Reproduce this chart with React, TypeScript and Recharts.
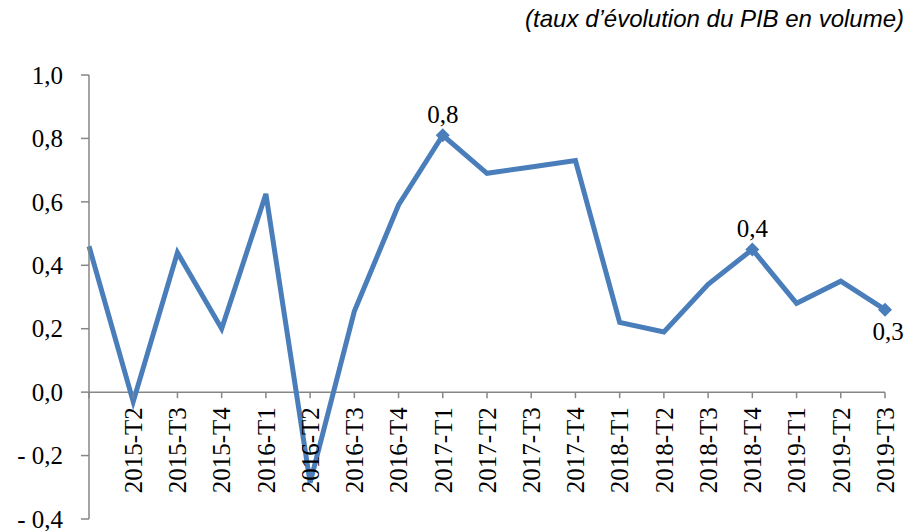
import { LineChart, Line, XAxis, YAxis, ReferenceLine, LabelList } from "recharts";

const periods = [
  "2015-T1", "2015-T2", "2015-T3", "2015-T4",
  "2016-T1", "2016-T2", "2016-T3", "2016-T4",
  "2017-T1", "2017-T2", "2017-T3", "2017-T4",
  "2018-T1", "2018-T2", "2018-T3", "2018-T4",
  "2019-T1", "2019-T2", "2019-T3",
];
const growth = [
  0.46, -0.03, 0.44, 0.2,
  0.625, -0.285, 0.255, 0.59,
  0.81, 0.69, 0.71, 0.73,
  0.22, 0.19, 0.34, 0.45,
  0.28, 0.35, 0.26,
];
const pointLabels: (string | null)[] = [
  null, null, null, null,
  null, null, null, null,
  "0,8", null, null, null,
  null, null, null, "0,4",
  null, null, "0,3",
];
const yTicks = [-0.4, -0.2, 0, 0.2, 0.4, 0.6, 0.8, 1.0];
const yTickLabels = ["- 0,4", "- 0,2", "0,0", "0,2", "0,4", "0,6", "0,8", "1,0"];
const title = "(taux d\u2019évolution du PIB en volume)";

const data = periods.map((p, i) => ({ period: p, value: growth[i], label: pointLabels[i] }));

const W = 910;
const H = 531;
const TOP = 75;
const BOTTOM = 12;
const Y_MIN = -0.4;
const Y_MAX = 1.0;
const ZERO_Y = TOP + ((H - TOP - BOTTOM) * Y_MAX) / (Y_MAX - Y_MIN);

const AXIS = "#868686";
const BLUE = "#4a7ebb";
const SERIF = "Liberation Serif";

function XTick(props: any) {
  const { x, index, payload } = props;
  return (
    <g>
      <line x1={x} x2={x} y1={ZERO_Y} y2={ZERO_Y + 6} stroke={AXIS} strokeWidth={1.5} />
      {index > 0 && (
        <text
          transform={`translate(${x},${ZERO_Y + 15}) rotate(-90)`}
          textAnchor="end"
          dy="0.35em"
          style={{ fontFamily: SERIF, fontSize: 25 }}
          fill="#000"
        >
          {payload.value}
        </text>
      )}
    </g>
  );
}

function YTick(props: any) {
  const { x, y, index } = props;
  return (
    <text
      x={x - 1}
      y={y}
      dy="0.35em"
      textAnchor="end"
      style={{ fontFamily: SERIF, fontSize: 25 }}
      fill="#000"
    >
      {yTickLabels[index]}
    </text>
  );
}

function Diamond(props: any) {
  const { cx, cy, index } = props;
  if (!pointLabels[index]) return <g key={`d${index}`} />;
  const r = 7;
  return (
    <path
      key={`d${index}`}
      d={`M${cx},${cy - r} L${cx + r},${cy} L${cx},${cy + r} L${cx - r},${cy} Z`}
      fill={BLUE}
    />
  );
}

function PointLabel(props: any) {
  const { x, y, value, index } = props;
  if (!value) return null;
  const below = index === periods.length - 1;
  return (
    <text
      x={x + (below ? 3 : 0)}
      y={below ? y + 30 : y - 12}
      textAnchor="middle"
      style={{ fontFamily: SERIF, fontSize: 25 }}
      fill="#000"
    >
      {value}
    </text>
  );
}

export default function App() {
  return (
    <div style={{ position: "absolute", left: 0, top: 0, width: W, height: H, background: "#fff" }}>
      <div
        style={{
          position: "absolute",
          right: 6,
          top: 5,
          fontFamily: "'Liberation Sans', Arial, sans-serif",
          fontStyle: "italic",
          fontSize: 24,
          color: "#000",
          whiteSpace: "nowrap",
        }}
      >
        {title}
      </div>
      <LineChart width={W} height={H} data={data} margin={{ top: TOP, right: 25, bottom: 0, left: 0 }}>
        <XAxis
          dataKey="period"
          height={BOTTOM}
          axisLine={false}
          tickLine={false}
          interval={0}
          tick={<XTick />}
        />
        <YAxis
          width={89}
          domain={[Y_MIN, Y_MAX]}
          ticks={yTicks}
          interval={0}
          axisLine={{ stroke: AXIS, strokeWidth: 1.5 }}
          tickLine={{ stroke: AXIS, strokeWidth: 1.5 }}
          tickSize={8}
          tickMargin={17}
          tick={<YTick />}
        />
        <ReferenceLine y={0} stroke={AXIS} strokeWidth={1.5} />
        <Line
          type="linear"
          dataKey="value"
          stroke={BLUE}
          strokeWidth={5}
          dot={Diamond}
          activeDot={false}
          isAnimationActive={false}
        >
          <LabelList dataKey="label" content={PointLabel} />
        </Line>
      </LineChart>
    </div>
  );
}
